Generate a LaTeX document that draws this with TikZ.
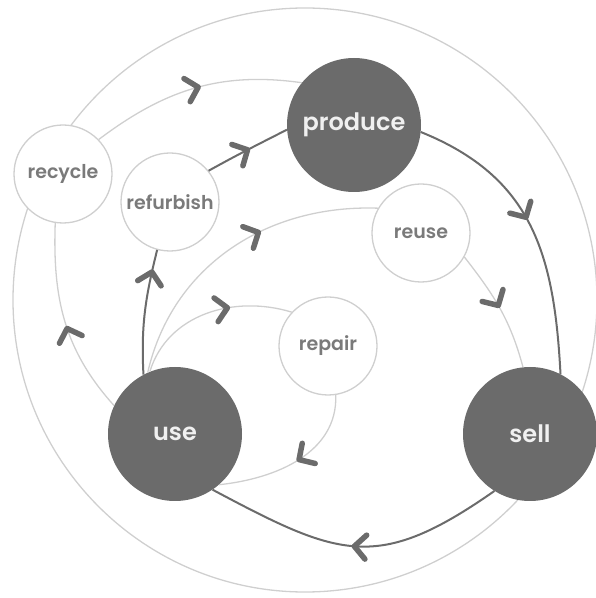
\documentclass[tikz,border=0pt]{standalone}
\usepackage{fontspec}
\setmainfont{Poppins}[UprightFont=* SemiBold]
\usepackage{tikz}
\usetikzlibrary{decorations.markings}

\definecolor{stagegray}{HTML}{6B6B6B}
\definecolor{ringgray}{HTML}{CFCFCF}
\definecolor{labelgray}{HTML}{7A7A7A}

\begin{document}
\begin{tikzpicture}[x=1pt,y=1pt,
    bigstage/.style={circle,fill=stagegray,minimum size=134pt,inner sep=0pt,text=white!94!black,font=\fontsize{24}{24}\selectfont},
    smallstage/.style={circle,draw=ringgray,line width=1.3pt,fill=white,minimum size=98pt,inner sep=0pt,text=labelgray,font=\fontsize{19}{19}\selectfont},
    mainflow/.style={stagegray,line width=2pt},
    sideflow/.style={ringgray,line width=1.3pt},
    chevron/.style={postaction={decorate},decoration={markings,mark=at position #1 with
      {\draw[stagegray,line width=5.5pt,line cap=round,line join=round] (-11.5pt,12pt) -- (0pt,0pt) -- (-11.5pt,-12pt);}}}]
  \useasboundingbox (0,0) rectangle (596,598);
  % outer ring, it runs behind recycle and sell
  \draw[sideflow] (305,298) circle (292);
  \node[bigstage] (produce) at (354,473) {produce};
  \node[bigstage] (sell) at (530,164) {sell};
  \node[bigstage] (use) at (175,164) {use};
  \node[smallstage] (recycle) at (63,424) {recycle};
  \node[smallstage] (refurbish) at (170,396) {refurbish};
  \node[smallstage] (reuse) at (421,365) {reuse};
  \node[smallstage] (repair) at (328,252) {repair};
  % main loop
  \draw[mainflow,chevron=0.46] (produce.-6) to[out=-22,in=93,looseness=1.1] (sell.63);
  \draw[mainflow,chevron=0.5] (sell.-122) to[out=-145,in=-28,looseness=1.3] (use.-56);
  \draw[mainflow,chevron=0.82] (use.118) to[out=93,in=-104] (refurbish.-105);
  \draw[mainflow,chevron=0.5] (refurbish.39) to[out=29,in=207] (produce.184);
  % side loops
  \draw[sideflow,chevron=0.46] (use.155) to[out=132,in=-92] (recycle.-99);
  \draw[sideflow,chevron=0.52] (recycle.44) to[out=37,in=172] (produce.141);
  \draw[sideflow,chevron=0.6] (use.114) to[out=77,in=178] (reuse.150);
  \draw[sideflow,chevron=0.47] (reuse.-29) to[out=-52,in=105] (sell.96);
  \draw[sideflow,chevron=0.62] (use.112) to[out=73,in=163] (repair.137);
  \draw[sideflow,chevron=0.48] (repair.-81) to[out=-88,in=6] (use.-49);
\end{tikzpicture}
\end{document}
